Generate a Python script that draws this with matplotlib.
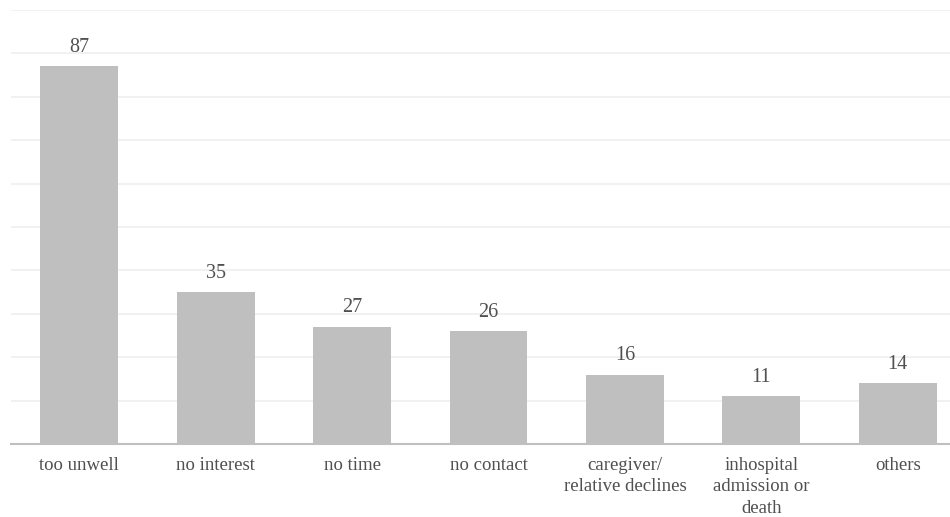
import numpy as np
import matplotlib
matplotlib.use('Agg')
import matplotlib.pyplot as plt

categories = ['too unwell', 'no interest', 'no time', 'no contact',
              'caregiver/\nrelative declines', 'inhospital\nadmission or\ndeath', 'others']
counts = [87, 35, 27, 26, 16, 11, 14]
y_ticks = list(range(0, 101, 10))

plt.rcParams['font.family'] = ['Liberation Serif', 'DejaVu Serif']

fig = plt.figure(figsize=(9.5, 5.17), dpi=100)
# axes run a little past the right edge, like the cropped original
ax = fig.add_axes([11 / 950, 73 / 517, 955 / 950, 434 / 517])

x = np.arange(len(categories))
bars = ax.bar(x, counts, width=0.57, color='#bfbfbf', zorder=2)

for b, v in zip(bars, counts):
    ax.text(b.get_x() + b.get_width() / 2, v + 2.2, str(v),
            ha='center', va='bottom', fontsize=14.5, color='#505050')

ax.set_xlim(-0.5, len(categories) - 0.5)
ax.set_ylim(0, 100)
ax.set_yticks(y_ticks)
ax.yaxis.grid(True, color='#f0f0f0', linewidth=1.3, zorder=0)
ax.tick_params(axis='y', left=False, labelleft=False)
ax.tick_params(axis='x', bottom=False, pad=6)
ax.set_xticks(x)
ax.set_xticklabels(categories, fontsize=13.5, color='#505050', linespacing=1.32)

for side in ['top', 'right', 'left']:
    ax.spines[side].set_visible(False)
ax.spines['bottom'].set_color('#bfbfbf')
ax.spines['bottom'].set_linewidth(1.5)
ax.spines['bottom'].set_zorder(3)

fig.savefig('out.png', dpi=100)
